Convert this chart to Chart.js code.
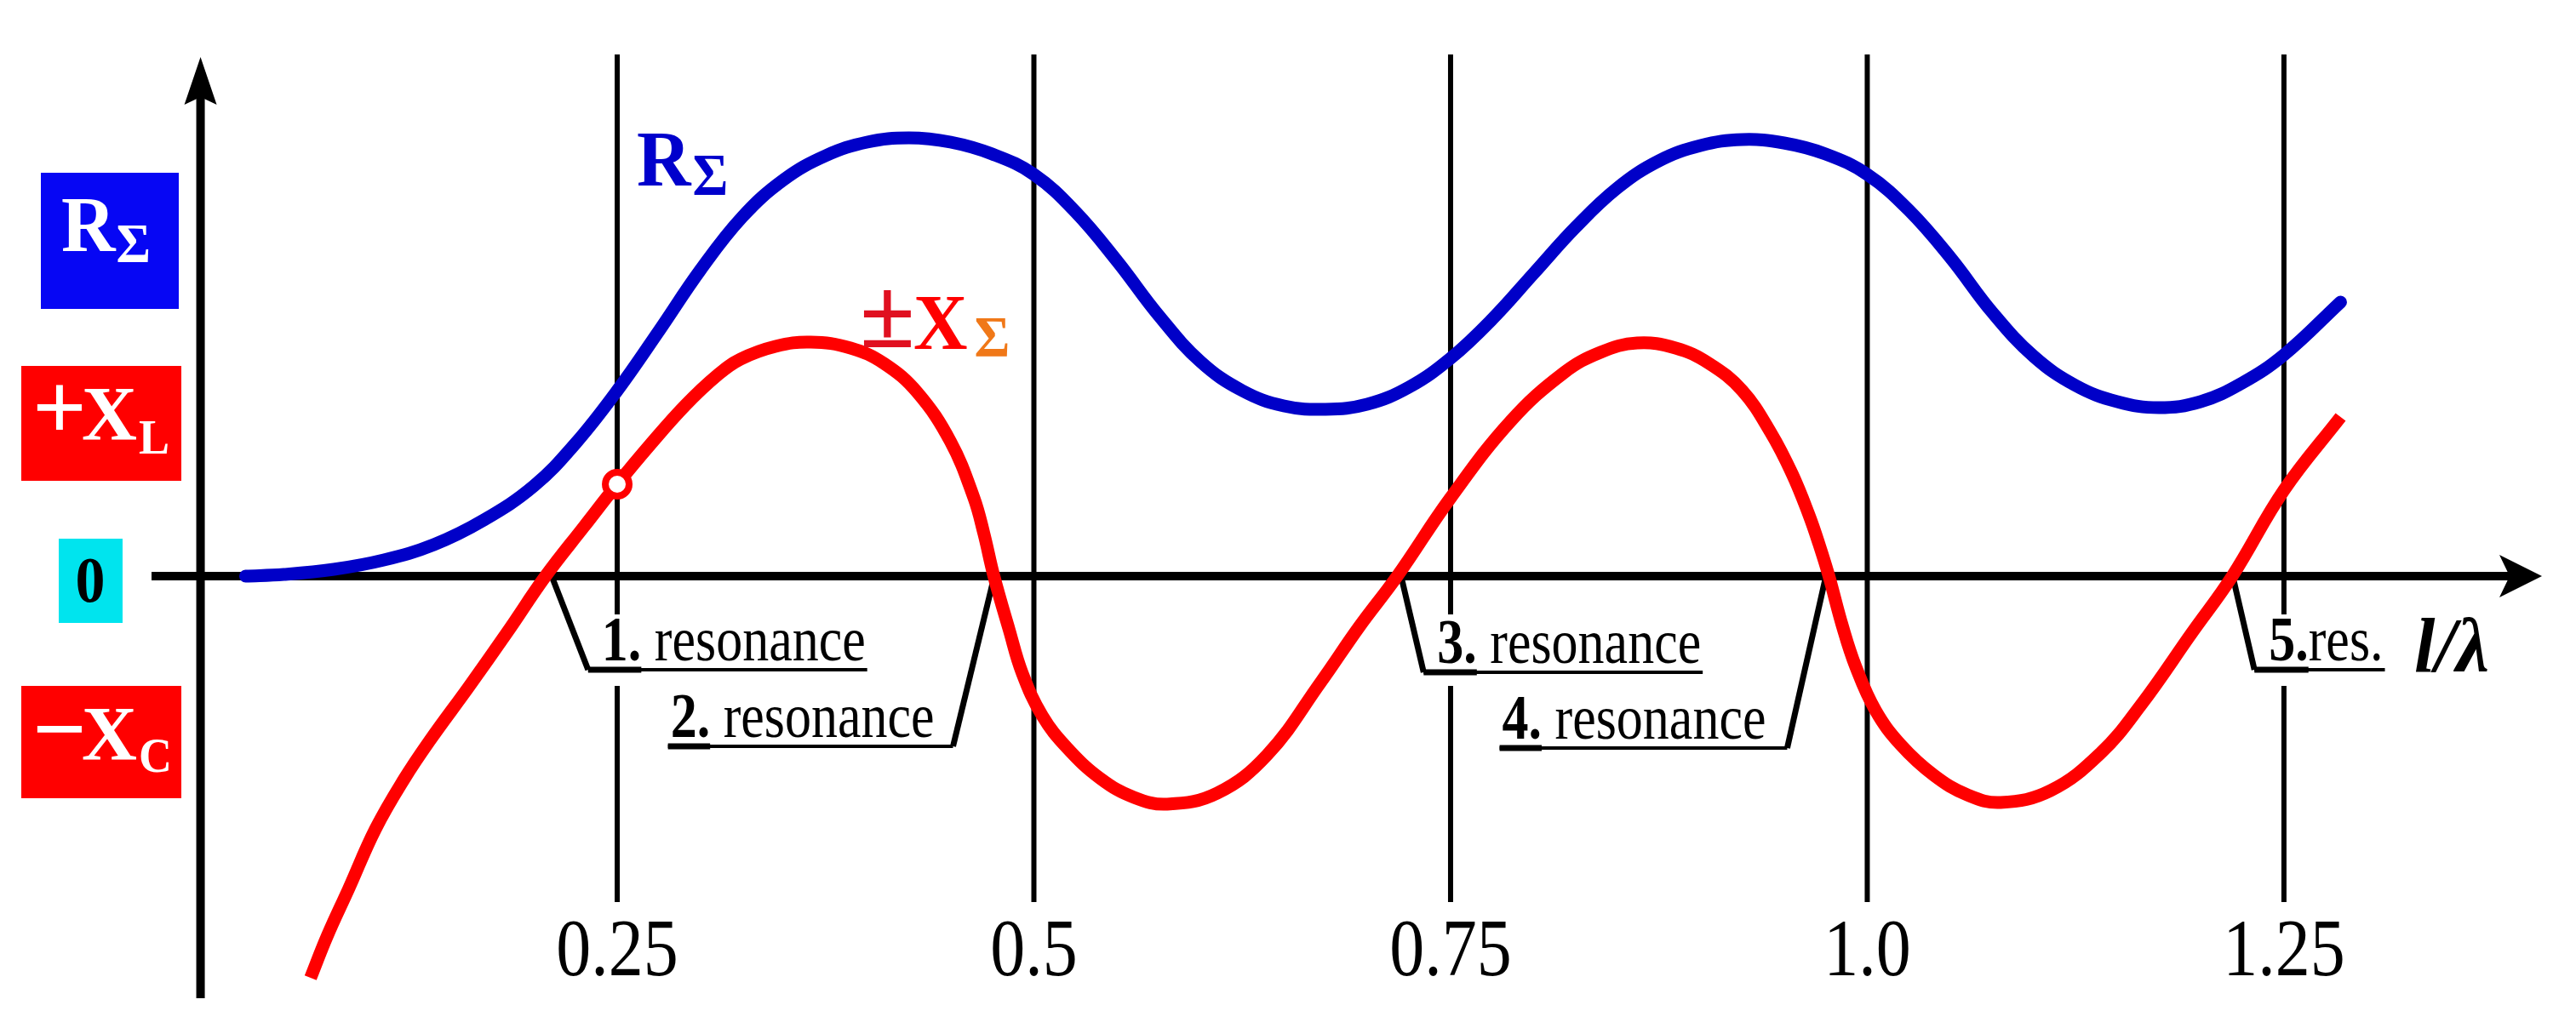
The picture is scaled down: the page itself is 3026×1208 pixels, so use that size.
<!DOCTYPE html>
<html><head><meta charset="utf-8">
<script src="https://cdn.jsdelivr.net/npm/chart.js@4.4.1/dist/chart.umd.min.js"></script>
<style>html,body{margin:0;padding:0;background:#fff;overflow:hidden}canvas{display:block}</style>
</head><body>
<canvas id="c" width="3026" height="1208" style="width:3026px;height:1208px"></canvas>
<script>
// ---- data ----
const rX = [0.027,0.05,0.08,0.11,0.14,0.17,0.20,0.225,0.25,0.275,0.30,0.325,0.35,0.375,0.40,0.425,0.45,0.475,0.50,0.525,0.55,0.575,0.60,0.625,0.65,0.675,0.70,0.725,0.75,0.775,0.80,0.825,0.85,0.875,0.90,0.925,0.95,0.975,1.00,1.025,1.05,1.075,1.10,1.125,1.15,1.175,1.20,1.225,1.25,1.284];
const rY = [0.00,0.02,0.08,0.19,0.37,0.66,1.06,1.56,2.18,2.88,3.60,4.22,4.66,4.94,5.10,5.15,5.10,4.96,4.72,4.28,3.70,3.06,2.52,2.18,2.00,1.96,2.02,2.22,2.56,3.02,3.56,4.10,4.56,4.88,5.06,5.13,5.09,4.96,4.72,4.30,3.74,3.10,2.58,2.24,2.05,1.98,2.05,2.27,2.60,3.22];
const xX = [0.066,0.076,0.089,0.105,0.122,0.138,0.161,0.184,0.207,0.23,0.25,0.27,0.291,0.31,0.324,0.345,0.366,0.39,0.41,0.43,0.45,0.464,0.47,0.476,0.485,0.493,0.505,0.52,0.54,0.56,0.58,0.61,0.64,0.672,0.695,0.718,0.75,0.786,0.818,0.84,0.862,0.885,0.905,0.925,0.942,0.955,0.965,0.971,0.977,0.985,0.993,1.005,1.02,1.04,1.06,1.08,1.11,1.14,1.164,1.195,1.219,1.25,1.284];
const xY = [-4.72,-4.23,-3.67,-2.97,-2.39,-1.92,-1.30,-0.66,0.00,0.58,1.08,1.55,2.01,2.36,2.55,2.70,2.75,2.68,2.50,2.16,1.58,0.92,0.50,0.00,-0.62,-1.14,-1.64,-2.02,-2.38,-2.60,-2.68,-2.55,-2.10,-1.25,-0.60,0.00,0.92,1.82,2.39,2.63,2.74,2.68,2.50,2.18,1.69,1.20,0.72,0.38,0.00,-0.58,-1.06,-1.58,-1.98,-2.34,-2.57,-2.66,-2.52,-2.08,-1.52,-0.66,0.00,1.01,1.87];
const tickValues = [0.25,0.5,0.75,1.0,1.25];
const tickLabels = ['0.25','0.5','0.75','1.0','1.25'];
const resonanceX = [0.207,0.476,0.718,0.977,1.219];
const resonanceNum = ['1.','2.','3.','4.','5.'];
const resonanceWord = [' resonance',' resonance',' resonance',' resonance','res.'];
const markerX = 0.25;
const X_MIN = -0.0294, X_MAX = 1.4048, Y_MIN = -4.96, Y_MAX = 6.10;

// ---- layout (style/positions) ----
const calloutLayout = [
  {up:true,  s:8,  e:50,  uy:110, t:66},
  {up:false, s:0,  e:-48, uy:200, t:-70},
  {up:true,  s:5,  e:31,  uy:113, t:47},
  {up:false, s:-4, e:-49, uy:202, t:-74},
  {up:true,  s:1,  e:26,  uy:110, t:43}
];
const SERIF = '"Liberation Serif","Times New Roman",serif';

function txt(ctx, s, x, y, font, color, align, sy) {
  ctx.save();
  ctx.font = font; ctx.fillStyle = color; ctx.textAlign = align || 'left'; ctx.textBaseline = 'alphabetic';
  ctx.translate(x, y); ctx.scale(1, sy || 1.15);
  ctx.fillText(s, 0, 0);
  const w = ctx.measureText(s).width;
  ctx.restore();
  return w;
}
function tw(ctx, s, font) { ctx.save(); ctx.font = font; const w = ctx.measureText(s).width; ctx.restore(); return w; }

const decor = {
  id: 'decor',
  beforeDatasetsDraw(chart) {
    const {ctx, chartArea} = chart;
    const xs = chart.scales.x, ys = chart.scales.y;
    const x0 = xs.getPixelForValue(0), y0 = ys.getPixelForValue(0);
    const top = ys.getPixelForValue(Y_MAX), bottom = ys.getPixelForValue(Y_MIN);
    ctx.save();
    // grid lines
    ctx.strokeStyle = '#000'; ctx.lineWidth = 6;
    tickValues.forEach(v => {
      const px = xs.getPixelForValue(v);
      ctx.beginPath(); ctx.moveTo(px, top - 3); ctx.lineTo(px, y0 + 383); ctx.stroke();
    });
    // tick labels
    tickValues.forEach((v, i) => {
      txt(ctx, tickLabels[i], xs.getPixelForValue(v), y0 + 469, '82px ' + SERIF, '#000', 'center', 1.15);
    });
    // y axis
    ctx.fillStyle = '#000';
    ctx.lineWidth = 10;
    ctx.beginPath(); ctx.moveTo(x0, top + 40); ctx.lineTo(x0, bottom); ctx.stroke();
    ctx.beginPath(); ctx.moveTo(x0, top); ctx.lineTo(x0 - 19, top + 56); ctx.lineTo(x0, top + 47); ctx.lineTo(x0 + 19, top + 56); ctx.closePath(); ctx.fill();
    // x axis
    const right = chartArea.right;
    ctx.lineWidth = 10;
    ctx.beginPath(); ctx.moveTo(chartArea.left, y0); ctx.lineTo(right - 30, y0); ctx.stroke();
    ctx.beginPath(); ctx.moveTo(right, y0); ctx.lineTo(right - 50, y0 - 25); ctx.lineTo(right - 38, y0); ctx.lineTo(right - 50, y0 + 25); ctx.closePath(); ctx.fill();
    // callouts
    const fNum = 'bold 62px ' + SERIF, fWord = '62px ' + SERIF;
    resonanceX.forEach((rv, i) => {
      const L = calloutLayout[i];
      const X0 = xs.getPixelForValue(rv);
      const wN = tw(ctx, resonanceNum[i], fNum), wW = tw(ctx, resonanceWord[i], fWord);
      const total = wN + wW;
      const uy = y0 + L.uy;
      const tx = L.up ? X0 + L.t : X0 + L.t - total;
      if (L.up) {
        ctx.fillStyle = '#fff';
        ctx.fillRect(tx - 6, y0 + 45, total + 12, 84);
      }
      ctx.strokeStyle = '#000'; ctx.lineWidth = 7;
      ctx.beginPath(); ctx.moveTo(X0 + L.s, y0 + 2); ctx.lineTo(X0 + L.e, uy); ctx.stroke();
      ctx.lineWidth = 4;
      ctx.beginPath();
      if (L.up) { ctx.moveTo(X0 + L.e, uy); ctx.lineTo(tx + total + 2, uy); }
      else { ctx.moveTo(tx - 3, uy); ctx.lineTo(X0 + L.e, uy); }
      ctx.stroke();
      ctx.lineWidth = 7;
      ctx.beginPath();
      if (L.up) { ctx.moveTo(X0 + L.e, uy); ctx.lineTo(tx + wN, uy); }
      else { ctx.moveTo(tx - 3, uy); ctx.lineTo(tx + wN, uy); }
      ctx.stroke();
      txt(ctx, resonanceNum[i], tx, uy - 11, fNum, '#000', 'left', 1.2);
      txt(ctx, resonanceWord[i], tx + wN, uy - 11, fWord, '#000', 'left', 1.2);
    });
    // axis title l/λ
    txt(ctx, 'l/λ', right - 150, y0 + 112, 'bold italic 88px ' + SERIF, '#000', 'left', 1.03);
    ctx.restore();
  },
  afterDatasetsDraw(chart) {
    const {ctx} = chart;
    ctx.save();
    // curve labels
    let w = txt(ctx, 'R', 748, 218, 'bold 88px ' + SERIF, '#0000cc', 'left', 1.05);
    txt(ctx, 'Σ', 748 + w + 2, 229, 'bold 64px ' + SERIF, '#0000cc', 'left', 1.08);
    txt(ctx, '±', 1010, 408, 'bold 118px ' + SERIF, '#e01020', 'left', 1.0);
    w = txt(ctx, 'X', 1073, 410, 'bold 88px ' + SERIF, '#ff0000', 'left', 1.05);
    txt(ctx, 'Σ', 1073 + w + 8, 418, 'bold 64px ' + SERIF, '#f07818', 'left', 1.05);
    // left boxes
    ctx.fillStyle = '#0606f4'; ctx.fillRect(48, 203, 162, 160);
    w = txt(ctx, 'R', 72, 295, 'bold 88px ' + SERIF, '#fff', 'left', 1.05);
    txt(ctx, 'Σ', 72 + w + 1, 308, 'bold 62px ' + SERIF, '#fff', 'left', 1.05);
    ctx.fillStyle = '#ff0000'; ctx.fillRect(25, 430, 188, 135);
    txt(ctx, '+', 38, 516, 'bold 112px ' + SERIF, '#fff', 'left', 1.0);
    w = txt(ctx, 'X', 96, 517, 'bold 90px ' + SERIF, '#fff', 'left', 1.02);
    txt(ctx, 'L', 96 + w + 2, 533, 'bold 54px ' + SERIF, '#fff', 'left', 1.05);
    ctx.fillStyle = '#00e4ee'; ctx.fillRect(69, 633, 75, 99);
    txt(ctx, '0', 106, 707, 'bold 70px ' + SERIF, '#000', 'center', 1.1);
    ctx.fillStyle = '#ff0000'; ctx.fillRect(25, 806, 188, 132);
    txt(ctx, '−', 38, 894, 'bold 112px ' + SERIF, '#fff', 'left', 1.0);
    w = txt(ctx, 'X', 96, 893, 'bold 90px ' + SERIF, '#fff', 'left', 1.02);
    txt(ctx, 'C', 96 + w + 2, 907, 'bold 54px ' + SERIF, '#fff', 'left', 1.05);
    ctx.restore();
  }
};

const blueData = rX.map((x, i) => ({x, y: rY[i]}));
const redData = xX.map((x, i) => ({x, y: xY[i]}));

new Chart(document.getElementById('c'), {
  type: 'scatter',
  data: {
    datasets: [
      {label: 'RΣ', data: blueData, showLine: true, borderColor: '#0000c8', borderWidth: 15,
       pointRadius: 0, tension: 0.4, borderCapStyle: 'round', borderJoinStyle: 'round', clip: false},
      {label: '±XΣ', data: redData, showLine: true, borderColor: '#ff0000', borderWidth: 15,
       tension: 0.4, borderCapStyle: 'butt', borderJoinStyle: 'round', clip: false,
       pointRadius: c => (c.raw && c.raw.x === markerX) ? 14 : 0,
       pointBackgroundColor: '#ffffff', pointBorderColor: '#ff0000', pointBorderWidth: 8}
    ]
  },
  options: {
    responsive: false, animation: false, devicePixelRatio: 1,
    layout: {padding: {left: 178, right: 40, top: 67, bottom: 35}},
    scales: {
      x: {type: 'linear', min: X_MIN, max: X_MAX, display: false},
      y: {type: 'linear', min: Y_MIN, max: Y_MAX, display: false}
    },
    plugins: {legend: {display: false}, tooltip: {enabled: false}}
  },
  plugins: [decor]
});
</script>
</body></html>
